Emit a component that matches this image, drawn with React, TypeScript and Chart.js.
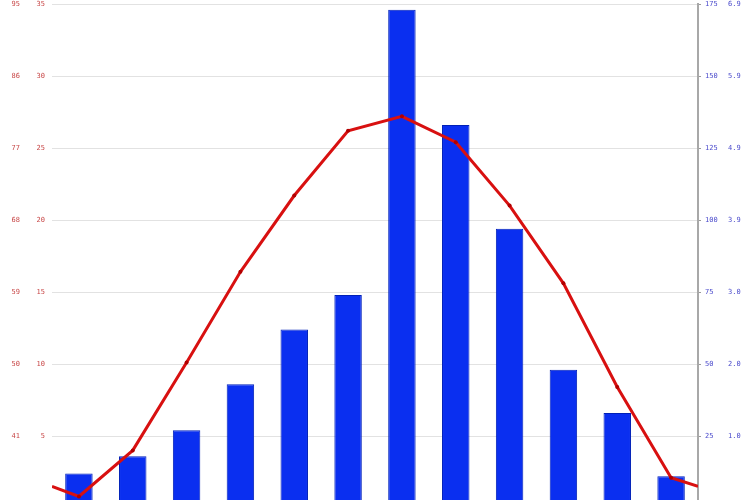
import React, { useEffect, useRef } from 'react';
import { Chart, registerables } from 'chart.js';

Chart.register(...registerables);

const months = ['Jan', 'Feb', 'Mar', 'Apr', 'May', 'Jun', 'Jul', 'Aug', 'Sep', 'Oct', 'Nov', 'Dec'];
const precipitationMm = [12, 18, 27, 43, 62, 74, 173, 133, 97, 48, 33, 11];
const temperatureC = [0.8, 4.0, 10.1, 16.4, 21.7, 26.2, 27.2, 25.4, 21.0, 15.6, 8.4, 2.1];
const temperatureEdgeStartC = 1.5;
const temperatureEdgeEndC = 1.5;
const fahrenheitTickLabels = ['41', '50', '59', '68', '77', '86', '95'];
const celsiusTickLabels = ['5', '10', '15', '20', '25', '30', '35'];
const mmTickLabels = ['25', '50', '75', '100', '125', '150', '175'];
const inchTickLabels = ['1.0', '2.0', '3.0', '3.9', '4.9', '5.9', '6.9'];

const tickFont = { family: 'DejaVu Sans Mono', size: 7 };
const leftColor = '#c84848';
const rightColor = '#4b4bcc';

export default function App() {
  const ref = useRef<HTMLCanvasElement>(null);

  useEffect(() => {
    if (!ref.current) return;
    const n = temperatureC.length;
    const lineData = [
      { x: -0.5, y: temperatureEdgeStartC },
      ...temperatureC.map((t, i) => ({ x: i, y: t })),
      { x: n - 0.5, y: temperatureEdgeEndC },
    ];
    const barData = precipitationMm.map((v, i) => ({ x: i, y: v }));
    const labelFrom = (arr: string[]) => (_v: any, i: number) => (i >= 1 && arr[i - 1] !== undefined ? arr[i - 1] : '');
    const fixed = (w: number) => (s: any) => {
      s.width = w;
      s.paddingTop = 0;
      s.paddingBottom = 0;
    };

    const chart = new Chart(ref.current, {
      type: 'bar',
      data: {
        datasets: [
          {
            type: 'line',
            label: 'Temperature',
            data: lineData as any,
            xAxisID: 'x',
            yAxisID: 'c',
            borderColor: '#d81010',
            borderWidth: 3,
            pointRadius: (ctx: any) => (ctx.dataIndex === 0 || ctx.dataIndex === n + 1 ? 0 : 2),
            pointBackgroundColor: '#b00000',
            pointBorderColor: '#b00000',
            pointBorderWidth: 0,
            tension: 0,
            order: 0,
          } as any,
          {
            type: 'bar',
            label: 'Precipitation',
            data: barData as any,
            xAxisID: 'x',
            yAxisID: 'mm',
            backgroundColor: '#0a2ff0',
            borderColor: '#0020b8',
            borderWidth: 1,
            grouped: false,
            categoryPercentage: 1,
            barPercentage: 0.51,
            order: 1,
          } as any,
        ],
      },
      options: {
        responsive: false,
        animation: false,
        layout: { padding: { top: 4, bottom: 12, left: 0, right: 0 } },
        plugins: { legend: { display: false }, tooltip: { enabled: false } },
        scales: {
          x: { type: 'linear', display: false, offset: false, min: -0.5, max: n - 0.5, grid: { offset: false } },
          f: {
            type: 'linear',
            position: 'left',
            weight: 1,
            min: 0,
            max: 35,
            afterFit: fixed(26),
            grid: { display: false, drawTicks: false },
            border: { display: false },
            ticks: { stepSize: 5, font: tickFont, color: leftColor, padding: 6, callback: labelFrom(fahrenheitTickLabels) },
          },
          c: {
            type: 'linear',
            position: 'left',
            weight: 0,
            min: 0,
            max: 35,
            afterFit: fixed(26),
            grid: { color: '#e2e2e2', lineWidth: 1, drawTicks: false },
            border: { display: false },
            ticks: { stepSize: 5, font: tickFont, color: leftColor, padding: 7, callback: labelFrom(celsiusTickLabels) },
          },
          mm: {
            type: 'linear',
            position: 'right',
            weight: 0,
            min: 0,
            max: 175,
            afterFit: fixed(24),
            grid: { drawOnChartArea: false, drawTicks: true, tickLength: 3, tickColor: '#9a9a9a' },
            border: { display: true, color: '#a8a8a8', width: 2 },
            ticks: { stepSize: 25, font: tickFont, color: rightColor, padding: 4, callback: labelFrom(mmTickLabels) },
          },
          inch: {
            type: 'linear',
            position: 'right',
            weight: 1,
            min: 0,
            max: 175,
            afterFit: fixed(28),
            grid: { display: false, drawTicks: false },
            border: { display: false },
            ticks: { stepSize: 25, font: tickFont, color: rightColor, padding: 6, callback: labelFrom(inchTickLabels) },
          },
        },
      } as any,
    });
    return () => chart.destroy();
  }, []);

  return (
    <div style={{ position: 'fixed', left: 0, top: 0, width: 750, height: 500, overflow: 'hidden', background: '#ffffff' }}>
      <canvas ref={ref} width={750} height={520} style={{ display: 'block', width: 750, height: 520 }} />
    </div>
  );
}
